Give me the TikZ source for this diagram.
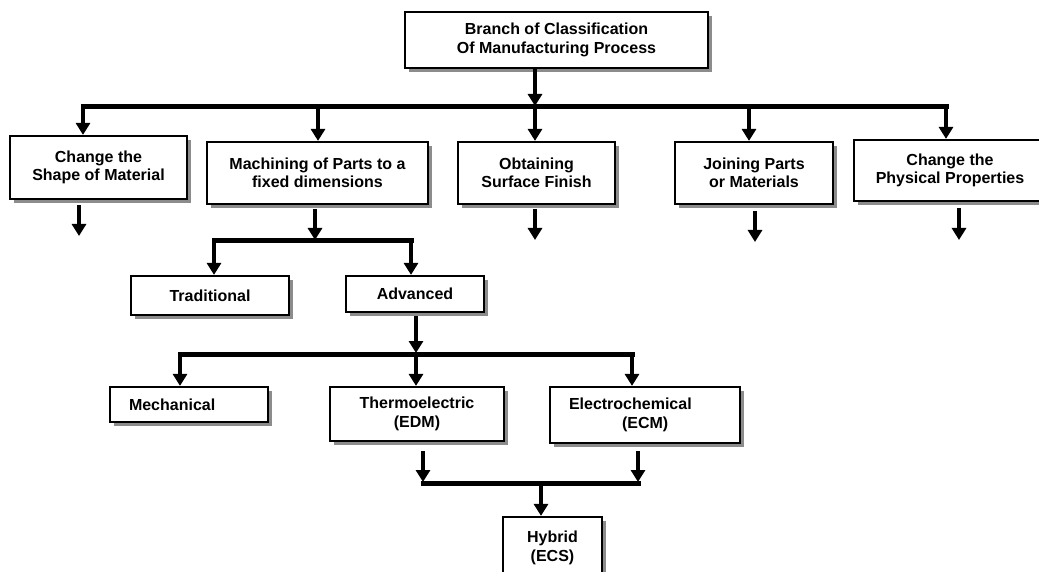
\documentclass[tikz,border=0pt]{standalone}
\usepackage{fontspec}
\setmainfont{Liberation Sans}
\usetikzlibrary{arrows.meta,shadows}
\begin{document}
\begin{tikzpicture}[x=1pt,y=-1pt,
  box/.style={draw=black,line width=2.2pt,fill=white,inner sep=0pt,align=center,
    font=\bfseries\fontsize{16}{18.5}\selectfont,
    drop shadow={shadow xshift=4pt,shadow yshift=-4pt,fill=black!45,opacity=1}},
  arr/.style={line width=3.2pt,-{Triangle[width=14pt,length=12pt]}},
  bar/.style={line width=5pt,line cap=rect}]
\useasboundingbox (0,0) rectangle (1039,572);
% boxes
\node[box,minimum width=303pt,minimum height=56pt] (top) at (556.5,40) {Branch of Classification\\Of Manufacturing Process};
\node[box,minimum width=177pt,minimum height=63pt] (b1) at (98.5,167.5) {Change the\\Shape of Material};
\node[box,minimum width=221pt,minimum height=62pt] (b2) at (317.5,173) {Machining of Parts to a\\fixed dimensions};
\node[box,minimum width=157pt,minimum height=62pt] (b3) at (536.5,173) {Obtaining\\Surface Finish};
\node[box,minimum width=158pt,minimum height=62pt] (b4) at (754,173) {Joining Parts\\or Materials};
\node[box,minimum width=192pt,minimum height=61pt] (b5) at (950,170.5) {Change the\\Physical Properties};
\node[box,minimum width=158pt,minimum height=39pt] (trad) at (210,295.5) {Traditional};
\node[box,minimum width=138pt,minimum height=36pt] (adv) at (415,294) {Advanced};
\node[box,minimum height=35pt,text width=120pt,inner xsep=19pt,align=left] (mech) at (189,404.5) {Mechanical};
\node[box,minimum width=174pt,minimum height=54pt] (thermo) at (417,414) {Thermoelectric\\(EDM)};
\node[box,minimum height=56pt,text width=152pt,inner xsep=19pt,align=left] (electro) at (645,415) {Electrochemical\\\hspace*{53pt}(ECM)};
\node[box,minimum width=99pt,minimum height=62pt] (hyb) at (552.5,548) {Hybrid\\(ECS)};
% level 1
\coordinate (j0) at (535,107);
\coordinate (jL) at (83,107);
\coordinate (j2) at (318,107);
\coordinate (j4) at (749,107);
\coordinate (jR) at (946,107);
\draw[arr,shorten >=1pt] (top.south -| j0) -- (j0);
\draw[bar] (jL) -- (jR);
\draw[arr] (jL) -- (jL |- b1.north);
\draw[arr] (j2) -- (j2 |- b2.north);
\draw[arr] (j0) -- (j0 |- b3.north);
\draw[arr] (j4) -- (j4 |- b4.north);
\draw[arr] (jR) -- (jR |- b5.north);
% free arrows
\coordinate (e1) at (79,236);
\coordinate (e3) at (535,240);
\coordinate (e4) at (755,242);
\coordinate (e5) at (959,240);
\draw[arr] ([yshift=-5pt]b1.south -| e1) -- (e1);
\draw[arr] ([yshift=-4pt]b3.south -| e3) -- (e3);
\draw[arr] ([yshift=-6pt]b4.south -| e4) -- (e4);
\draw[arr] ([yshift=-6pt]b5.south -| e5) -- (e5);
% machining
\coordinate (m0) at (315,241);
\coordinate (mL) at (214,241);
\coordinate (mR) at (411,241);
\draw[arr,shorten >=1pt] ([yshift=-4pt]b2.south -| m0) -- (m0);
\draw[bar] (mL) -- (mR);
\draw[arr] (mL) -- (mL |- trad.north);
\draw[arr] (mR) -- (mR |- adv.north);
% advanced
\coordinate (a0) at (416,354);
\coordinate (aL) at (180,354);
\coordinate (aR) at (632,354);
\draw[arr,shorten >=1pt] ([yshift=-3pt]adv.south -| a0) -- (a0);
\draw[bar] (aL) -- (aR);
\draw[arr] (aL) -- (aL |- mech.north);
\draw[arr] (a0) -- (a0 |- thermo.north);
\draw[arr] (aR) -- (aR |- electro.north);
% hybrid
\coordinate (h0) at (541,483);
\coordinate (hL) at (423,483);
\coordinate (hR) at (638,483);
\draw[arr,shorten >=1pt] ([yshift=-9pt]thermo.south -| hL) -- (hL);
\draw[arr,shorten >=1pt] ([yshift=-7pt]electro.south -| hR) -- (hR);
\draw[bar] (hL) -- (hR);
\draw[arr] (h0) -- (h0 |- hyb.north);
\end{tikzpicture}
\end{document}
